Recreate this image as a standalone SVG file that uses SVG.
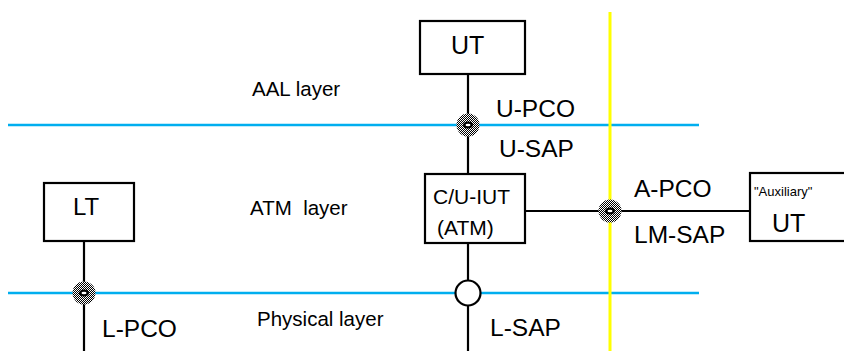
<svg xmlns="http://www.w3.org/2000/svg" width="844" height="351" viewBox="0 0 844 351">
<style>
  text { font-family: "Liberation Sans", Arial, sans-serif; fill: #000; }
  .box { fill: #fff; stroke: #000; stroke-width: 2.2; }
  .wire { stroke: #000; stroke-width: 2.2; fill: none; }
  .layer { stroke: #00aeef; stroke-width: 2.5; }
  .yel { stroke: #ffff00; stroke-width: 3; }
  .lbl { font-size: 24.5px; }
  .lyr { font-size: 20.5px; white-space: pre; }
</style>
<defs>
  <pattern id="dith" width="2" height="2" patternUnits="userSpaceOnUse">
    <rect width="2" height="2" fill="#fff"/>
    <rect width="1" height="1" fill="#000"/>
    <rect x="1" y="1" width="1" height="1" fill="#000"/>
  </pattern>
  <g id="pco">
    <circle r="11.5" fill="url(#dith)"/>
    <ellipse rx="5" ry="3.5" fill="#000"/>
    <ellipse rx="2.5" ry="1.3" fill="#fff"/>
  </g>
</defs>

<g id="layers">
  <line class="layer" x1="8" y1="125" x2="699" y2="125"/>
  <line class="layer" x1="8" y1="293" x2="699" y2="293"/>
  <line class="yel" x1="610" y1="12" x2="610" y2="351"/>
</g>

<g id="connectors">
  <line class="wire" x1="468" y1="74" x2="468" y2="174"/>
  <line class="wire" x1="468" y1="243" x2="468" y2="351"/>
  <line class="wire" x1="525" y1="211" x2="751" y2="211"/>
  <line class="wire" x1="84" y1="241" x2="84" y2="351"/>
</g>

<g id="ut">
  <rect class="box" x="420" y="21" width="105" height="53"/>
  <text x="451" y="54" font-size="25">UT</text>
</g>

<g id="iut">
  <rect class="box" x="425" y="174" width="100" height="69"/>
  <text x="433" y="204" font-size="21">C/U-IUT</text>
  <text x="437" y="235" font-size="21">(ATM)</text>
</g>

<g id="lt">
  <rect class="box" x="44" y="183" width="90" height="58"/>
  <text x="73" y="215" font-size="24">LT</text>
</g>

<g id="aux-ut">
  <rect class="box" x="750" y="173" width="100" height="68"/>
  <text x="754" y="196" font-size="13">"Auxiliary"</text>
  <text x="772" y="232" font-size="25">UT</text>
</g>

<g id="points">
  <use href="#pco" x="468" y="125"/>
  <use href="#pco" x="610" y="211"/>
  <use href="#pco" x="84" y="293"/>
  <circle cx="468" cy="293" r="12.5" fill="#fff" stroke="#000" stroke-width="2.2"/>
</g>

<g id="labels">
  <text class="lbl" x="496" y="117">U-PCO</text>
  <text class="lbl" x="499" y="157">U-SAP</text>
  <text class="lbl" x="634" y="197">A-PCO</text>
  <text class="lbl" x="634" y="243">LM-SAP</text>
  <text class="lbl" x="490" y="336">L-SAP</text>
  <text class="lbl" x="102" y="337">L-PCO</text>
  <text class="lyr" x="252" y="96">AAL layer</text>
  <text class="lyr" x="250" y="215" xml:space="preserve">ATM  layer</text>
  <text class="lyr" x="257" y="326">Physical layer</text>
</g>
</svg>
